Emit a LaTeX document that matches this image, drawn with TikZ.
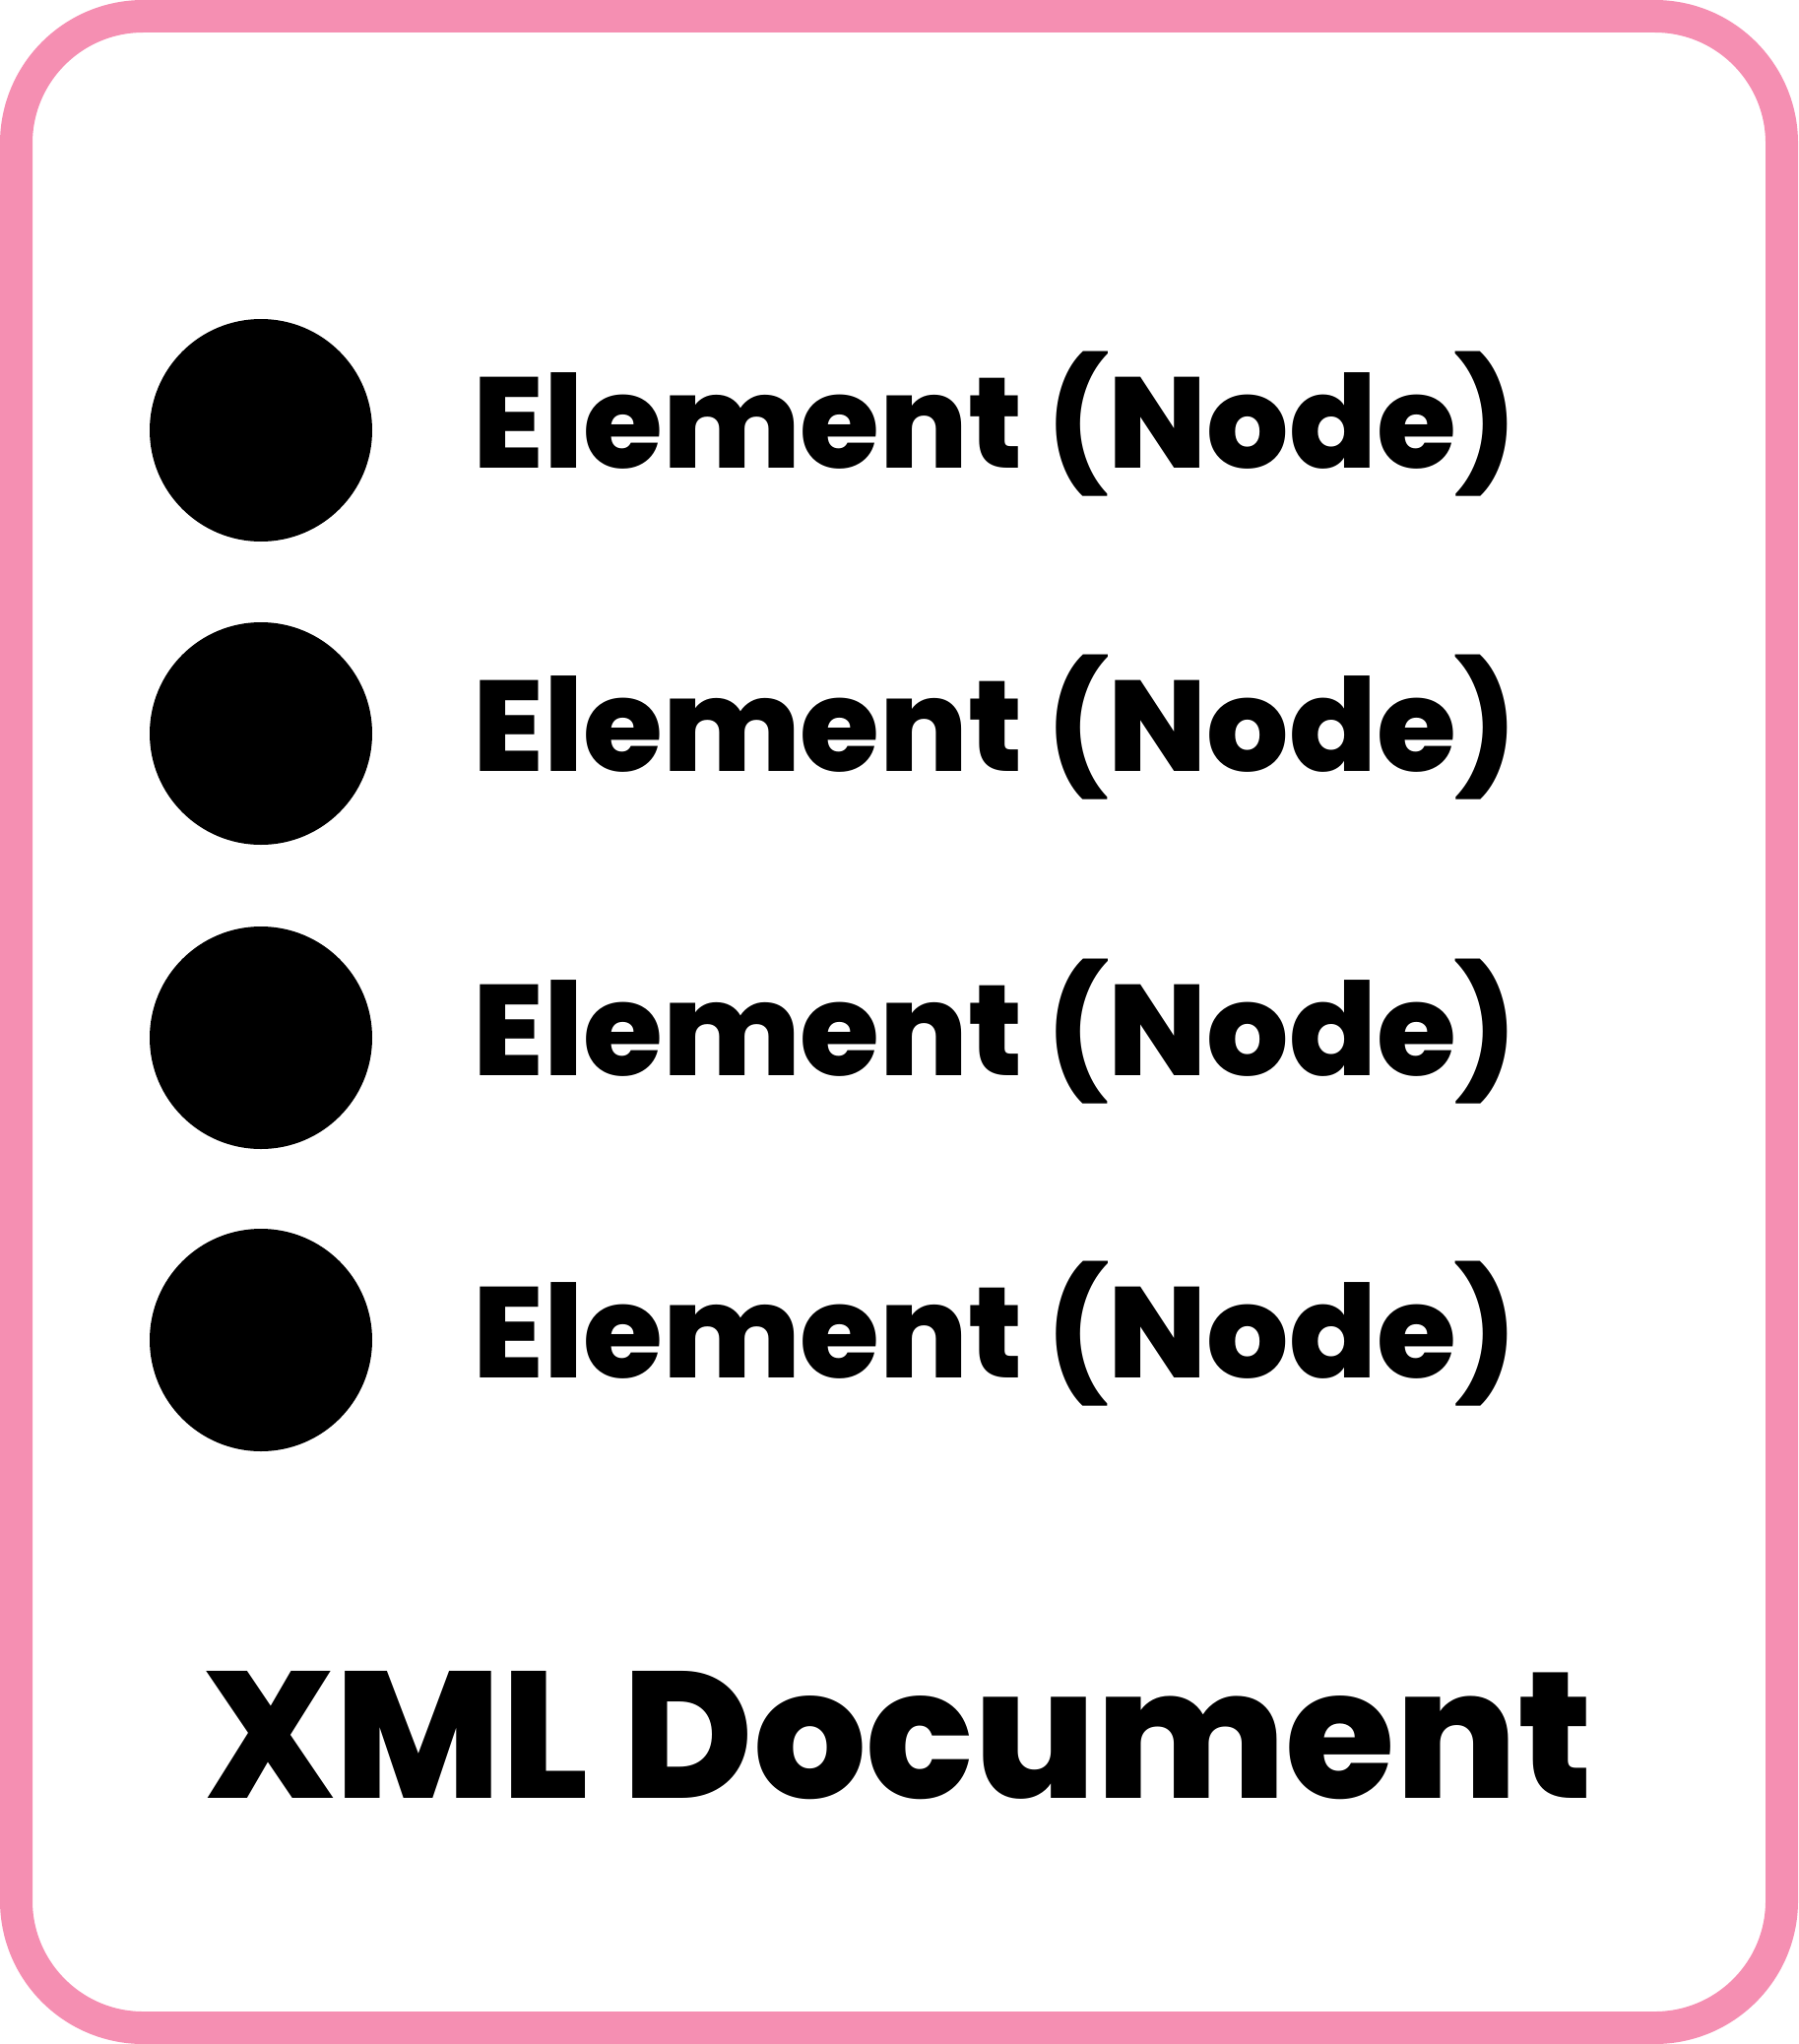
\documentclass[tikz,border=0pt]{standalone}
\usepackage{fontspec}
\setmainfont{Poppins}[BoldFont={Poppins ExtraBold}]
\usepackage{graphicx}
\definecolor{framepink}{RGB}{245,143,178}
\begin{document}
\begin{tikzpicture}[x=1pt,y=-1pt,
  frame/.style={draw=framepink, line width=33pt, rounded corners=129pt},
  dot/.style={circle, fill=black, minimum size=226pt, inner sep=0pt},
  label/.style={anchor=west, inner sep=0pt, font=\bfseries},
  title/.style={anchor=south west, inner sep=0pt, font=\bfseries}]
\useasboundingbox (0,0) rectangle (1826,2076);
\draw[frame] (16.5,16.5) rectangle (1809.5,2059.5);
\foreach \i/\cy in {1/437,2/745,3/1054,4/1361}{
  \node[dot] (c\i) at (265,\cy) {};
  \node[label] (t\i) at (480,\cy-6) {\resizebox*{1060pt}{147pt}{Element (Node)}};
}
\node[title] (doc) at (207,1828) {\resizebox{1408pt}{129pt}{XML Document}};
\end{tikzpicture}
\end{document}
